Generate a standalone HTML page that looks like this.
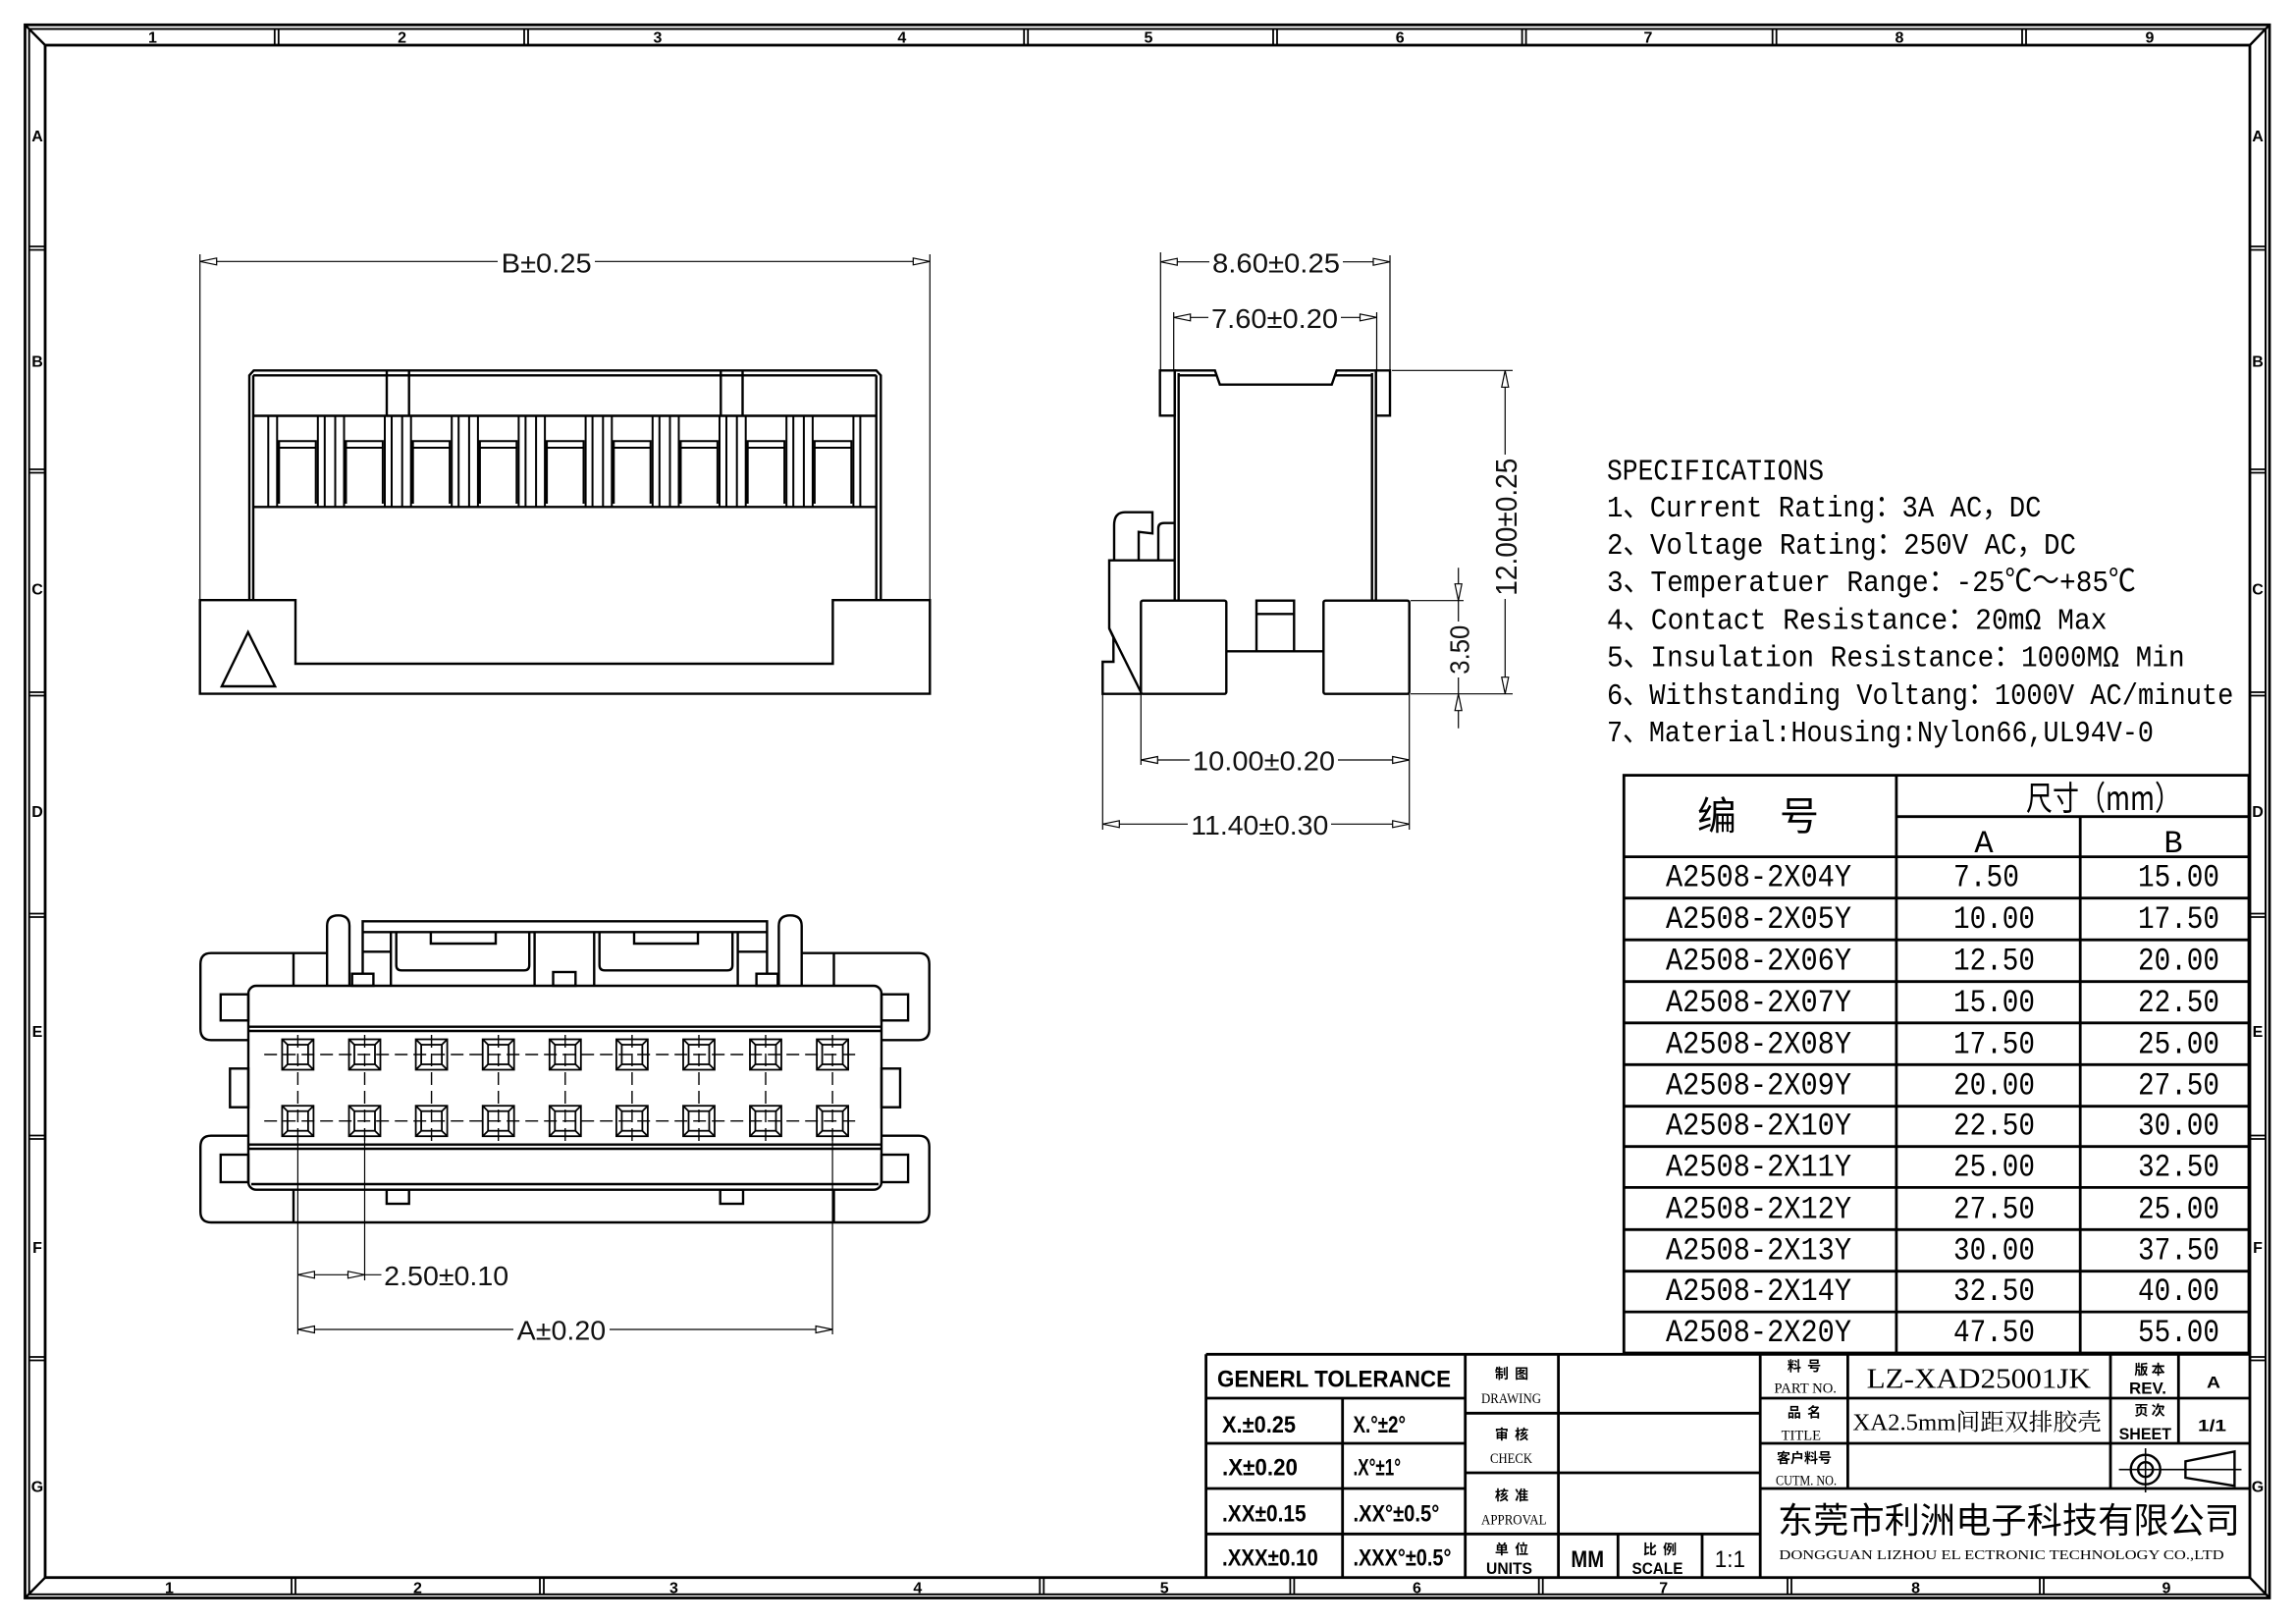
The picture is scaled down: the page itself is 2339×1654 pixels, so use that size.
<!DOCTYPE html>
<html><head><meta charset="utf-8"><style>
html,body{margin:0;padding:0;background:#fff;}
svg{display:block;}
.o{stroke:#000;stroke-width:2.4;fill:none;stroke-linejoin:miter;}
.f{stroke:#000;stroke-width:2.8;fill:none;}
.t{stroke:#000;stroke-width:1.2;fill:none;}
.p{stroke:#000;stroke-width:1.8;fill:none;}
.dash{stroke:#000;stroke-width:1.4;fill:none;stroke-dasharray:13 6;}
.ar{fill:#fff;stroke:#000;stroke-width:1.2;}
.d{font-family:"Liberation Sans",sans-serif;font-size:28px;fill:#111;}
.n{font-family:"Liberation Sans",sans-serif;font-size:16px;font-weight:bold;fill:#000;}
.sp{font-family:"Liberation Mono","Noto Sans CJK SC",monospace;font-size:31px;fill:#000;}
.tb{font-family:"Liberation Mono","Noto Sans CJK SC",monospace;font-size:32px;fill:#000;}
.cj{font-family:"Noto Sans CJK SC",sans-serif;fill:#000;}
.bs{font-family:"Liberation Sans",sans-serif;font-weight:bold;fill:#000;}
.sf{font-family:"Liberation Serif","Noto Serif CJK SC",serif;fill:#000;}
</style></head><body>
<svg width="2339" height="1654" viewBox="0 0 2339 1654" xmlns="http://www.w3.org/2000/svg">
<rect x="0" y="0" width="2339" height="1654" fill="#fff"/>
<defs>
<g id="pin" class="p"><rect x="-16" y="-15.5" width="32" height="31"/><rect x="-10.5" y="-10" width="21" height="20"/><path d="M-16 -15.5L-10.5 -10M16 -15.5L10.5 -10M-16 15.5L-10.5 10M16 15.5L10.5 10"/></g>
<g id="slot" style="stroke:#000;stroke-width:2;fill:none"><path d="M-11 423.5V516.3M-2 423.5V516.3M0 513V449.3H37.4V513M0 456H37.4M39.5 423.5V516.3M46.5 423.5V516.3"/></g>
</defs>

<!-- FRAME -->
<rect class="f" x="25.5" y="25.3" width="2286.5" height="1602.2"/>
<rect class="o" x="29.7" y="29.5" width="2278.3" height="1594.3" style="stroke-width:2"/>
<rect class="f" x="46" y="46" width="2246" height="1560.7"/>
<path class="o" d="M25.5 25.3L46 46M2312 25.3L2292 46M25.5 1627.5L46 1606.7M2312 1627.5L2292 1606.7"/>
<!-- top dividers -->
<path class="o" style="stroke-width:1.8" d="M279.8 29.5V46M283.8 29.5V46M534 29.5V46M538 29.5V46M1043.2 29.5V46M1047.2 29.5V46M1297 29.5V46M1301 29.5V46M1550.6 29.5V46M1554.6 29.5V46M1805.7 29.5V46M1809.7 29.5V46M2060 29.5V46M2064 29.5V46"/>
<!-- bottom dividers -->
<path class="o" style="stroke-width:1.8" d="M297 1606.7V1624M301 1606.7V1624M550 1606.7V1624M554 1606.7V1624M1059.3 1606.7V1624M1063.3 1606.7V1624M1314.4 1606.7V1624M1318.4 1606.7V1624M1567.7 1606.7V1624M1571.7 1606.7V1624M1821 1606.7V1624M1825 1606.7V1624M2078 1606.7V1624M2082 1606.7V1624"/>
<!-- side dividers -->
<path class="o" style="stroke-width:1.8" d="M29.7 251V251M29.7 251H46M29.7 254.5H46M29.7 478H46M29.7 481.5H46M29.7 705H46M29.7 708.5H46M29.7 930.5H46M29.7 934H46M29.7 1156.5H46M29.7 1160H46M29.7 1382H46M29.7 1385.5H46
M2292 251H2308M2292 254.5H2308M2292 478H2308M2292 481.5H2308M2292 705H2308M2292 708.5H2308M2292 930.5H2308M2292 934H2308M2292 1156.5H2308M2292 1160H2308M2292 1382H2308M2292 1385.5H2308"/>
<g class="n" text-anchor="middle">
<text x="155.4" y="43.5">1</text><text x="409.6" y="43.5">2</text><text x="670" y="43.5">3</text><text x="918.8" y="43.5">4</text><text x="1170" y="43.5">5</text><text x="1426.2" y="43.5">6</text><text x="1679" y="43.5">7</text><text x="1935" y="43.5">8</text><text x="2190" y="43.5">9</text>
<text x="172.4" y="1622.5">1</text><text x="425.5" y="1622.5">2</text><text x="686.4" y="1622.5">3</text><text x="934.8" y="1622.5">4</text><text x="1186.2" y="1622.5">5</text><text x="1443.4" y="1622.5">6</text><text x="1694.7" y="1622.5">7</text><text x="1951.6" y="1622.5">8</text><text x="2207" y="1622.5">9</text>
<text x="38" y="143.8">A</text><text x="38" y="373.3">B</text><text x="38" y="605.5">C</text><text x="38" y="832">D</text><text x="38" y="1055.8">E</text><text x="38" y="1275.9">F</text><text x="38" y="1519.3">G</text>
<text x="2300" y="143.8">A</text><text x="2300" y="373.3">B</text><text x="2300" y="605.5">C</text><text x="2300" y="832">D</text><text x="2300" y="1055.8">E</text><text x="2300" y="1275.9">F</text><text x="2300" y="1519.3">G</text>
</g>

<!-- TOP VIEW -->
<path class="o" d="M203.7 611.2H301V676H848.4V611.2H947.3V706.6H203.7Z"/>
<path class="o" d="M254 611.2V382.3L258.5 377.3H892.7L897.3 382.3V611.2"/>
<path class="o" d="M258 382.3V611.2M892.7 382.3V611.2M258 382.3H892.7M258 423.5H892.7M258 516.3H892.7M394 377.3V423.5M416.7 377.3V423.5M734.3 377.3V423.5M756.5 377.3V423.5"/>
<path class="o" d="M252.7 643.9L225.9 699H280.2Z"/>
<use href="#slot" x="284.3"/><use href="#slot" x="352.5"/><use href="#slot" x="420.7"/><use href="#slot" x="488.9"/><use href="#slot" x="557.1"/><use href="#slot" x="625.3"/><use href="#slot" x="693.5"/><use href="#slot" x="761.7"/><use href="#slot" x="829.9"/>
<!-- B dim -->
<path class="t" d="M203.7 259V611M947.3 259V611M203.7 266.3H507M606 266.3H947.3"/>
<polygon class="ar" points="203.7,266.3 220.7,262.8 220.7,269.8"/>
<polygon class="ar" points="947.3,266.3 930.3,262.8 930.3,269.8"/>
<text class="d" x="510.7" y="277.3" textLength="92" lengthAdjust="spacingAndGlyphs">B±0.25</text>

<!-- SIDE VIEW -->
<path class="o" d="M1181.7 377.3H1196.7V423.3H1181.7Z"/>
<path class="o" d="M1401.7 377.3H1416V423.3H1401.7Z"/>
<path class="o" d="M1196.7 377.3H1237.7L1242.7 391.7H1356.7L1361.7 377.3H1401.7"/>
<path class="o" d="M1196.7 377.3V611.7M1200.7 380V611.7M1397.7 380V611.7M1401.7 377.3V611.7M1200.7 382.3H1239M1360 382.3H1397.7"/>
<rect class="o" x="1162.3" y="611.7" width="87" height="95" rx="2"/>
<rect class="o" x="1348.3" y="611.7" width="87.4" height="95" rx="2"/>
<rect class="o" x="1280" y="611.7" width="38.3" height="51.6"/>
<path class="o" d="M1280 625.3H1318.3M1249.3 663.3H1280M1318.3 663.3H1348.3"/>
<path class="o" d="M1162.3 706.7H1123.3V674H1134.3V649.3L1130 640V570.7H1196.7"/>
<path class="o" d="M1130 640L1162.3 705"/>
<path class="o" d="M1135 570.7V535Q1135 521.7 1146 521.7H1174V543.3L1160 541.7V570.7"/>
<path class="o" d="M1180 570.7V538Q1180 532.7 1186 532.7H1196.7"/>
<!-- 8.60 / 7.60 -->
<path class="t" d="M1182.3 257V377M1416 260V377M1182.3 266.7H1232M1368 266.7H1416M1195.7 318V377M1402.5 318V377M1195.7 323.3H1231M1366 323.3H1402.5"/>
<polygon class="ar" points="1182.3,266.7 1199.3,263.2 1199.3,270.2"/>
<polygon class="ar" points="1416,266.7 1399,263.2 1399,270.2"/>
<polygon class="ar" points="1195.7,323.3 1212.7,319.8 1212.7,326.8"/>
<polygon class="ar" points="1402.5,323.3 1385.5,319.8 1385.5,326.8"/>
<text class="d" x="1235" y="277.3" textLength="130" lengthAdjust="spacingAndGlyphs">8.60±0.25</text>
<text class="d" x="1234" y="334" textLength="129" lengthAdjust="spacingAndGlyphs">7.60±0.20</text>
<!-- 12.00 -->
<path class="t" d="M1418 377.3H1541M1437 706.7H1541M1533.3 377.3V463M1533.3 610V706.7"/>
<polygon class="ar" points="1533.3,377.3 1529.8,394.3 1536.8,394.3"/>
<polygon class="ar" points="1533.3,706.7 1529.8,689.7 1536.8,689.7"/>
<text class="d" transform="translate(1545,536.7) rotate(-90)" x="0" y="0" text-anchor="middle" textLength="140" lengthAdjust="spacingAndGlyphs" style="font-size:31px">12.00±0.25</text>
<!-- 3.50 -->
<path class="t" d="M1437 611.7H1491M1485.7 578.3V633M1485.7 690V741.7"/>
<polygon class="ar" points="1485.7,611.7 1482.2,594.7 1489.2,594.7"/>
<polygon class="ar" points="1485.7,706.7 1482.2,723.7 1489.2,723.7"/>
<text class="d" transform="translate(1496.7,661.7) rotate(-90)" x="0" y="0" text-anchor="middle" textLength="50" lengthAdjust="spacingAndGlyphs">3.50</text>
<!-- 10.00 / 11.40 -->
<path class="t" d="M1162.3 706.7V779M1435.7 706.7V845M1123.3 706.7V845M1162.3 774H1212M1363 774H1435.7M1123.3 839.3H1210M1356 839.3H1435.7"/>
<polygon class="ar" points="1162.3,774 1179.3,770.5 1179.3,777.5"/>
<polygon class="ar" points="1435.7,774 1418.7,770.5 1418.7,777.5"/>
<polygon class="ar" points="1123.3,839.3 1140.3,835.8 1140.3,842.8"/>
<polygon class="ar" points="1435.7,839.3 1418.7,835.8 1418.7,842.8"/>
<text class="d" x="1215" y="784.5" textLength="145" lengthAdjust="spacingAndGlyphs">10.00±0.20</text>
<text class="d" x="1213.3" y="849.8" textLength="140" lengthAdjust="spacingAndGlyphs">11.40±0.30</text>

<!-- BOTTOM VIEW -->
<path class="o" d="M253 1059.3H215Q204.2 1059.3 204.2 1048V982Q204.2 970.7 215 970.7H333.2"/>
<path class="o" d="M898 1059.3H936Q946.7 1059.3 946.7 1048V982Q946.7 970.7 936 970.7H816.7"/>
<path class="o" d="M253 1156.7H215Q204.2 1156.7 204.2 1168V1234Q204.2 1245 215 1245H936Q946.7 1245 946.7 1234V1168Q946.7 1156.7 936 1156.7H898"/>
<path class="o" d="M299 970.7V1004M849.5 970.7V1004M299 1211.7V1245M849.5 1211.7V1245"/>
<rect class="o" x="253" y="1004" width="645" height="207.7" rx="8"/>
<path class="o" d="M253 1045.7H898M253 1050H898M253 1165.7H898M253 1170H898M256 1206H895"/>
<rect class="o" x="224.8" y="1012.7" width="28.2" height="26.6"/>
<rect class="o" x="234.3" y="1088.3" width="18.7" height="39.4"/>
<rect class="o" x="224.8" y="1176" width="28.2" height="28"/>
<rect class="o" x="898" y="1012.7" width="27.1" height="26.6"/>
<rect class="o" x="898" y="1088.3" width="19" height="39.4"/>
<rect class="o" x="898" y="1176" width="27.1" height="28"/>
<rect class="o" x="393.9" y="1211.7" width="22.8" height="14.3"/>
<rect class="o" x="733.7" y="1211.7" width="23.3" height="14.3"/>
<path class="o" d="M333.2 1004V943Q333.2 932.3 344.6 932.3Q356 932.3 356 943V1004"/>
<path class="o" d="M793.4 1004V943Q793.4 932.3 805 932.3Q816.7 932.3 816.7 943V1004"/>
<path class="o" d="M369.5 991.7V938.3H781.4V991.7M369.5 949.3H781.4"/>
<rect class="o" x="358.7" y="991.7" width="21.7" height="12.3"/>
<rect class="o" x="770.6" y="991.7" width="21.7" height="12.3"/>
<rect class="o" x="563.5" y="990" width="22.8" height="14"/>
<path class="o" d="M403.7 950V983Q403.7 988.3 409 988.3H534Q539.2 988.3 539.2 983V950M438.9 950V961H505V950"/>
<path class="o" d="M610.7 950V983Q610.7 988.3 616 988.3H741Q746.2 988.3 746.2 983V950M646 950V961H711V950"/>
<path class="o" d="M398.2 949.3V1004M544.6 949.3V1004M605.3 949.3V1004M751.6 949.3V1004M369.5 969.3H398.2M751.6 969.3H781.4"/>
<g>
<use href="#pin" x="303.4" y="1074"/><use href="#pin" x="371.5" y="1074"/><use href="#pin" x="439.6" y="1074"/><use href="#pin" x="507.7" y="1074"/><use href="#pin" x="575.8" y="1074"/><use href="#pin" x="643.9" y="1074"/><use href="#pin" x="712" y="1074"/><use href="#pin" x="780" y="1074"/><use href="#pin" x="848.1" y="1074"/>
<use href="#pin" x="303.4" y="1141.7"/><use href="#pin" x="371.5" y="1141.7"/><use href="#pin" x="439.6" y="1141.7"/><use href="#pin" x="507.7" y="1141.7"/><use href="#pin" x="575.8" y="1141.7"/><use href="#pin" x="643.9" y="1141.7"/><use href="#pin" x="712" y="1141.7"/><use href="#pin" x="780" y="1141.7"/><use href="#pin" x="848.1" y="1141.7"/>
</g>
<path class="dash" d="M269.2 1074H876.3M269.2 1141.7H876.3"/>
<path class="dash" d="M303.4 1054V1162M371.5 1054V1162M439.6 1054V1162M507.7 1054V1162M575.8 1054V1162M643.9 1054V1162M712 1054V1162M780 1054V1162M848.1 1054V1162"/>
<!-- 2.50 / A dims -->
<path class="t" d="M303.4 1162V1359M371.5 1162V1304M848.1 1162V1359M303.4 1298.3H388.5M303.4 1354H523M621 1354H848.1"/>
<polygon class="ar" points="303.4,1298.3 320.4,1294.8 320.4,1301.8"/>
<polygon class="ar" points="371.5,1298.3 354.5,1294.8 354.5,1301.8"/>
<polygon class="ar" points="303.4,1354 320.4,1350.5 320.4,1357.5"/>
<polygon class="ar" points="848.1,1354 831.1,1350.5 831.1,1357.5"/>
<text class="d" x="391.2" y="1308.8" textLength="127" lengthAdjust="spacingAndGlyphs">2.50±0.10</text>
<text class="d" x="526.7" y="1364.5" textLength="90.5" lengthAdjust="spacingAndGlyphs">A±0.20</text>

<!-- SPECIFICATIONS -->
<g class="sp">
<text x="1637" y="488.3" textLength="221" lengthAdjust="spacingAndGlyphs">SPECIFICATIONS</text>
<text x="1637" y="526" textLength="442.5" lengthAdjust="spacingAndGlyphs">1、Current Rating：3A AC，DC</text>
<text x="1637" y="563.8" textLength="478" lengthAdjust="spacingAndGlyphs">2、Voltage Rating：250V AC，DC</text>
<text x="1637" y="602" textLength="538.8" lengthAdjust="spacingAndGlyphs">3、Temperatuer Range：-25℃～+85℃</text>
<text x="1637" y="640.3" textLength="509.6" lengthAdjust="spacingAndGlyphs">4、Contact Resistance：20mΩ  Max</text>
<text x="1637" y="678.6" textLength="588.6" lengthAdjust="spacingAndGlyphs">5、Insulation Resistance：1000MΩ  Min</text>
<text x="1637" y="716.8" textLength="638.4" lengthAdjust="spacingAndGlyphs">6、Withstanding Voltang：1000V AC/minute</text>
<text x="1637" y="755" textLength="557" lengthAdjust="spacingAndGlyphs">7、Material:Housing:Nylon66,UL94V-0</text>
</g>

<!-- TABLE -->
<rect class="f" x="1654.3" y="789.6" width="636.7" height="588.4"/>
<path class="f" d="M1931.9 789.6V1378M2119.2 831.7V1378M1931.9 831.7H2291M1654.3 872.6H2291M1654.3 914.7H2291M1654.3 957.2H2291M1654.3 999.7H2291M1654.3 1041.8H2291M1654.3 1084.3H2291M1654.3 1126.7H2291M1654.3 1167.7H2291M1654.3 1209.4H2291M1654.3 1252.3H2291M1654.3 1294.7H2291M1654.3 1336.1H2291"/>
<text class="cj" x="1729" y="845" style="font-size:40px">编</text>
<text class="cj" x="1813" y="845" style="font-size:40px">号</text>
<text class="cj" x="2064" y="825" style="font-size:34px" textLength="158" lengthAdjust="spacingAndGlyphs">尺寸（mm）</text>
<text class="tb" x="2021" y="868" text-anchor="middle">A</text>
<text class="tb" x="2214" y="868" text-anchor="middle">B</text>
<g class="tb">
<text x="1697" y="902.7" textLength="189" lengthAdjust="spacingAndGlyphs">A2508-2X04Y</text><text x="1990" y="902.7" textLength="67" lengthAdjust="spacingAndGlyphs">7.50</text><text x="2178" y="902.7" textLength="83" lengthAdjust="spacingAndGlyphs">15.00</text>
<text x="1697" y="945.2" textLength="189" lengthAdjust="spacingAndGlyphs">A2508-2X05Y</text><text x="1990" y="945.2" textLength="83" lengthAdjust="spacingAndGlyphs">10.00</text><text x="2178" y="945.2" textLength="83" lengthAdjust="spacingAndGlyphs">17.50</text>
<text x="1697" y="987.7" textLength="189" lengthAdjust="spacingAndGlyphs">A2508-2X06Y</text><text x="1990" y="987.7" textLength="83" lengthAdjust="spacingAndGlyphs">12.50</text><text x="2178" y="987.7" textLength="83" lengthAdjust="spacingAndGlyphs">20.00</text>
<text x="1697" y="1029.8" textLength="189" lengthAdjust="spacingAndGlyphs">A2508-2X07Y</text><text x="1990" y="1029.8" textLength="83" lengthAdjust="spacingAndGlyphs">15.00</text><text x="2178" y="1029.8" textLength="83" lengthAdjust="spacingAndGlyphs">22.50</text>
<text x="1697" y="1072.3" textLength="189" lengthAdjust="spacingAndGlyphs">A2508-2X08Y</text><text x="1990" y="1072.3" textLength="83" lengthAdjust="spacingAndGlyphs">17.50</text><text x="2178" y="1072.3" textLength="83" lengthAdjust="spacingAndGlyphs">25.00</text>
<text x="1697" y="1114.7" textLength="189" lengthAdjust="spacingAndGlyphs">A2508-2X09Y</text><text x="1990" y="1114.7" textLength="83" lengthAdjust="spacingAndGlyphs">20.00</text><text x="2178" y="1114.7" textLength="83" lengthAdjust="spacingAndGlyphs">27.50</text>
<text x="1697" y="1155.7" textLength="189" lengthAdjust="spacingAndGlyphs">A2508-2X10Y</text><text x="1990" y="1155.7" textLength="83" lengthAdjust="spacingAndGlyphs">22.50</text><text x="2178" y="1155.7" textLength="83" lengthAdjust="spacingAndGlyphs">30.00</text>
<text x="1697" y="1197.4" textLength="189" lengthAdjust="spacingAndGlyphs">A2508-2X11Y</text><text x="1990" y="1197.4" textLength="83" lengthAdjust="spacingAndGlyphs">25.00</text><text x="2178" y="1197.4" textLength="83" lengthAdjust="spacingAndGlyphs">32.50</text>
<text x="1697" y="1240.3" textLength="189" lengthAdjust="spacingAndGlyphs">A2508-2X12Y</text><text x="1990" y="1240.3" textLength="83" lengthAdjust="spacingAndGlyphs">27.50</text><text x="2178" y="1240.3" textLength="83" lengthAdjust="spacingAndGlyphs">25.00</text>
<text x="1697" y="1282.7" textLength="189" lengthAdjust="spacingAndGlyphs">A2508-2X13Y</text><text x="1990" y="1282.7" textLength="83" lengthAdjust="spacingAndGlyphs">30.00</text><text x="2178" y="1282.7" textLength="83" lengthAdjust="spacingAndGlyphs">37.50</text>
<text x="1697" y="1324.1" textLength="189" lengthAdjust="spacingAndGlyphs">A2508-2X14Y</text><text x="1990" y="1324.1" textLength="83" lengthAdjust="spacingAndGlyphs">32.50</text><text x="2178" y="1324.1" textLength="83" lengthAdjust="spacingAndGlyphs">40.00</text>
<text x="1697" y="1366" textLength="189" lengthAdjust="spacingAndGlyphs">A2508-2X20Y</text><text x="1990" y="1366" textLength="83" lengthAdjust="spacingAndGlyphs">47.50</text><text x="2178" y="1366" textLength="83" lengthAdjust="spacingAndGlyphs">55.00</text>
</g>

<!-- TITLE BLOCK -->
<path class="f" d="M1228.6 1379.3H2292M1228.6 1379.3V1606.7M1367.7 1424V1606.7M1492.7 1379.3V1606.7M1228.6 1424H1492.7M1228.6 1470H1492.7M1228.6 1516H1492.7M1228.6 1562.3H1793.2M1587.6 1379.3V1606.7M1492.7 1439.3H1793.2M1492.7 1500H1793.2M1648.3 1562.3V1606.7M1734 1562.3V1606.7M1793.2 1379.3V1606.7M1882.4 1379.3V1516M2150 1379.3V1516M2219.3 1379.3V1470M1793.2 1424H2292M1793.2 1470H2292M1793.2 1516H2292"/>
<text class="bs" x="1240" y="1412.7" style="font-size:24px" textLength="238" lengthAdjust="spacingAndGlyphs">GENERL  TOLERANCE</text>
<g class="bs" style="font-size:24px">
<text x="1245" y="1459" textLength="75" lengthAdjust="spacingAndGlyphs">X.±0.25</text>
<text x="1378.5" y="1459" textLength="53.5" lengthAdjust="spacingAndGlyphs">X.°±2°</text>
<text x="1245" y="1502.7" textLength="77" lengthAdjust="spacingAndGlyphs">.X±0.20</text>
<text x="1378.5" y="1502.7" textLength="48.5" lengthAdjust="spacingAndGlyphs">.X°±1°</text>
<text x="1245" y="1549.3" textLength="85.6" lengthAdjust="spacingAndGlyphs">.XX±0.15</text>
<text x="1378.5" y="1549.3" textLength="87.8" lengthAdjust="spacingAndGlyphs">.XX°±0.5°</text>
<text x="1245" y="1594.3" textLength="97.8" lengthAdjust="spacingAndGlyphs">.XXX±0.10</text>
<text x="1378.5" y="1594.3" textLength="99.9" lengthAdjust="spacingAndGlyphs">.XXX°±0.5°</text>
</g>
<g class="cj" style="font-size:14px;font-weight:bold" text-anchor="middle">
<text x="1540" y="1404">制 &#160;图</text>
<text x="1540" y="1466">审 &#160;核</text>
<text x="1540" y="1528">核 &#160;准</text>
<text x="1540" y="1583">单 &#160;位</text>
<text x="1691" y="1583">比 &#160;例</text>
<text x="1838" y="1396.7">料 &#160;号</text>
<text x="1838" y="1443.3">品 &#160;名</text>
<text x="1838" y="1490">客户料号</text>
<text x="2190" y="1400">版 本</text>
<text x="2190" y="1441.7">页 次</text>
</g>
<g class="sf" style="font-size:15px">
<text x="1509" y="1429" textLength="61" lengthAdjust="spacingAndGlyphs">DRAWING</text>
<text x="1518" y="1490" textLength="43" lengthAdjust="spacingAndGlyphs">CHECK</text>
<text x="1509" y="1552.7" textLength="66.5" lengthAdjust="spacingAndGlyphs">APPROVAL</text>
<text x="1807.4" y="1418.3" textLength="63.6" lengthAdjust="spacingAndGlyphs">PART NO.</text>
<text x="1814.6" y="1466.7" textLength="40.4" lengthAdjust="spacingAndGlyphs">TITLE</text>
<text x="1809" y="1512.7" textLength="62" lengthAdjust="spacingAndGlyphs">CUTM. NO.</text>
</g>
<g class="bs" style="font-size:17px">
<text x="1514" y="1603" textLength="47" lengthAdjust="spacingAndGlyphs">UNITS</text>
<text x="1662.5" y="1603" textLength="52" lengthAdjust="spacingAndGlyphs">SCALE</text>
<text x="2169" y="1419.3" textLength="38" lengthAdjust="spacingAndGlyphs">REV.</text>
<text x="2158.6" y="1466" textLength="53.4" lengthAdjust="spacingAndGlyphs">SHEET</text>
<text x="2248" y="1413.3" textLength="14" lengthAdjust="spacingAndGlyphs">A</text>
<text x="2239" y="1457.3" textLength="29" lengthAdjust="spacingAndGlyphs">1/1</text>
</g>
<text class="bs" x="1600.4" y="1596" style="font-size:24px" textLength="33.6" lengthAdjust="spacingAndGlyphs">MM</text>
<text class="bs" x="1746.8" y="1596" style="font-size:24px;font-weight:normal" textLength="31.2" lengthAdjust="spacingAndGlyphs">1:1</text>
<text class="sf" x="1901.6" y="1413.3" style="font-size:29px" textLength="228.4" lengthAdjust="spacingAndGlyphs">LZ-XAD25001JK</text>
<text class="sf" x="1887.4" y="1456.5" style="font-size:24px" textLength="253.4" lengthAdjust="spacingAndGlyphs">XA2.5mm间距双排胶壳</text>
<text class="cj" x="1811" y="1561" style="font-size:36px" textLength="471" lengthAdjust="spacingAndGlyphs">东莞市利洲电子科技有限公司</text>
<text class="sf" x="1812.4" y="1588" style="font-size:14px" textLength="453.3" lengthAdjust="spacingAndGlyphs">DONGGUAN LIZHOU EL ECTRONIC TECHNOLOGY CO.,LTD</text>
<!-- projection symbol -->
<circle class="o" cx="2185.7" cy="1496.7" r="15"/>
<circle class="o" cx="2185.7" cy="1496.7" r="7.5"/>
<path class="t" style="stroke-width:1.6" d="M2158.6 1496.7H2283.5M2185.7 1475V1520"/>
<path class="o" d="M2226.4 1488.3V1505L2276.4 1513.3V1478.3Z"/>
</svg>
</body></html>
